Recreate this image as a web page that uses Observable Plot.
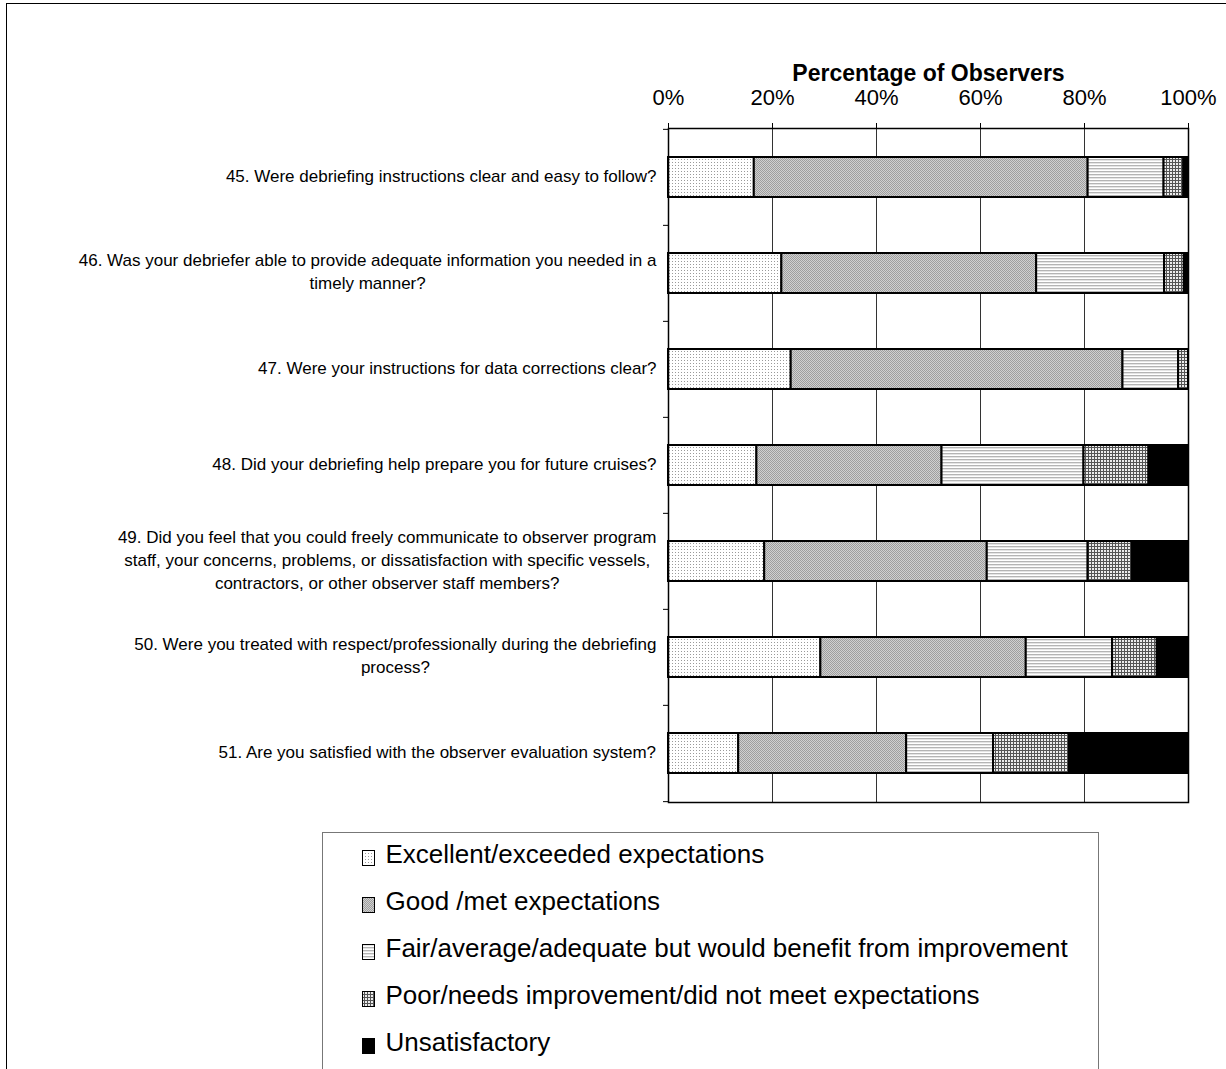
<!DOCTYPE html>
<html>
<head>
<meta charset="utf-8">
<script src="https://cdn.jsdelivr.net/npm/d3@7"></script>
<script src="https://cdn.jsdelivr.net/npm/@observablehq/plot@0.6"></script>
<style>
  body { margin: 0; background: #fff; font-family: 'Liberation Sans', Arial, sans-serif; }
  #page { position: relative; width: 1226px; height: 1069px; overflow: hidden; background: #fff; }
  #outline { position: absolute; left: 6px; top: 3px; width: 1260px; height: 1120px;
             border-left: 1.5px solid #000; border-top: 1.5px solid #000; }
  #chart { position: absolute; left: 0; top: 0; }
  #legend { position: absolute; left: 322px; top: 832px; width: 777px; height: 260px;
            border: 1.5px solid #777; box-sizing: border-box; background: #fff; }
  #legend .item { position: absolute; left: 38.5px; font-size: 26px; line-height: 26px;
                  white-space: nowrap; color: #000; }
  #legend .item svg { display: inline-block; vertical-align: -3px; margin-right: 11px; }
</style>
</head>
<body>
<svg width="0" height="0" style="position:absolute">
  <defs>
    <pattern id="pat-exc" width="3" height="3" patternUnits="userSpaceOnUse">
      <rect width="3" height="3" fill="#fff"/>
      <rect width="1" height="1" fill="#9a9a9a"/>
    </pattern>
    <pattern id="pat-good" width="2" height="2" patternUnits="userSpaceOnUse">
      <rect width="2" height="2" fill="#d0d0d0"/>
      <rect width="1" height="1" fill="#9e9e9e"/>
      <rect x="1" y="1" width="1" height="1" fill="#9e9e9e"/>
    </pattern>
    <pattern id="pat-fair" width="3" height="3" patternUnits="userSpaceOnUse">
      <rect width="3" height="3" fill="#fff"/>
      <rect width="3" height="1" fill="#b4b4b4"/>
      <rect y="1" width="3" height="1" fill="#e4e4e4"/>
    </pattern>
    <pattern id="pat-poor" width="3" height="3" patternUnits="userSpaceOnUse">
      <rect width="3" height="3" fill="#555"/>
      <rect x="0" y="1" width="2" height="2" fill="#ececec"/>
    </pattern>
    <pattern id="pat-unsat" width="3" height="3" patternUnits="userSpaceOnUse">
      <rect width="3" height="3" fill="#000"/>
    </pattern>
  </defs>
</svg>
<div id="page">
  <div id="outline"></div>
  <div id="chart"></div>
  <div id="legend"></div>
</div>
<script>
// Survey questions (line breaks as printed beside each bar)
const questions = [
  "45. Were debriefing instructions clear and easy to follow?",
  "46. Was your debriefer able to provide adequate information you needed in a\ntimely manner?",
  "47. Were your instructions for data corrections clear?",
  "48. Did your debriefing help prepare you for future cruises?",
  "49. Did you feel that you could freely communicate to observer program\nstaff, your concerns, problems, or dissatisfaction with specific vessels,\ncontractors, or other observer staff members?",
  "50. Were you treated with respect/professionally during the debriefing\nprocess?",
  "51. Are you satisfied with the observer evaluation system?"
];

// Response categories, in stacking order
const categories = [
  "Excellent/exceeded expectations",
  "Good /met expectations",
  "Fair/average/adequate but would benefit from improvement",
  "Poor/needs improvement/did not meet expectations",
  "Unsatisfactory"
];

// Percentage of observers choosing each response, one value per question
const excellent      = [16.5, 21.8, 23.6, 17.0, 18.5, 29.3, 13.5];
const good           = [64.2, 49.0, 63.8, 35.6, 42.8, 39.5, 32.3];
const fair           = [14.6, 24.6, 10.7, 27.3, 19.4, 16.6, 16.7];
const poor           = [ 3.8,  3.8,  1.9, 12.5,  8.5,  8.6, 14.6];
const unsatisfactory = [ 0.9,  0.8,  0.0,  7.6, 10.8,  6.0, 22.9];

const xTicks = [0, 20, 40, 60, 80, 100];
const axisTitle = "Percentage of Observers";

// Fill patterns for each response category
const fills = ["url(#pat-exc)", "url(#pat-good)", "url(#pat-fair)", "url(#pat-poor)", "url(#pat-unsat)"];

const series = [excellent, good, fair, poor, unsatisfactory];
const rows = [];
questions.forEach((q, i) => {
  categories.forEach((c, j) => {
    if (series[j][i] > 0) rows.push({question: q, category: c, value: series[j][i]});
  });
});

const W = 1226, H = 820, MT = 128, MB = 18, ML = 668, MR = 38;
const step = (H - MT - MB) / questions.length;
const labelFont = 17, labelGap = 12;

// Width of the widest line of each question, so its lines can be centred
// within a block that ends just left of the plot frame
const ctx = document.createElement("canvas").getContext("2d");
ctx.font = `${labelFont}px 'Liberation Sans', Arial, sans-serif`;
const blockWidth = q => Math.max(...q.split("\n").map(l => ctx.measureText(l).width));

const labelMarks = questions.map(q => Plot.text([q], {
  y: d => d,
  text: d => d,
  frameAnchor: "left",
  textAnchor: "middle",
  lineAnchor: "middle",
  dx: -(labelGap + blockWidth(q) / 2),
  dy: -3,
  fontSize: labelFont,
  lineHeight: 23 / labelFont,
  fill: "#000"
}));

const chart = Plot.plot({
  width: W,
  height: H,
  marginTop: MT,
  marginBottom: MB,
  marginLeft: ML,
  marginRight: MR,
  style: {fontFamily: "'Liberation Sans', Arial, sans-serif", color: "#000", background: "transparent", overflow: "visible"},
  x: {domain: [0, 100]},
  y: {domain: questions, paddingInner: 0.585, paddingOuter: 0.2925},
  color: {type: "ordinal", domain: categories, range: fills},
  marks: [
    Plot.gridX({ticks: xTicks.slice(1, -1), stroke: "#333", strokeOpacity: 1, strokeWidth: 1}),
    Plot.barX(rows, Plot.stackX({
      y: "question",
      x: "value",
      fill: "category",
      order: categories,
      stroke: "#000",
      strokeWidth: 2
    })),
    Plot.frame({stroke: "#000", strokeWidth: 1.5}),
    Plot.axisX({
      anchor: "top",
      ticks: xTicks,
      tickFormat: d => `${d}%`,
      tickSize: 6,
      tickPadding: 18,
      fontSize: 22,
      label: null,
      stroke: "#000"
    }),
    // small ticks on the category boundaries
    Plot.axisY({anchor: "left", ticks: questions, tickSize: 5, tickFormat: () => "", label: null, dy: -step / 2, stroke: "#000"}),
    Plot.axisY({anchor: "left", ticks: questions.slice(-1), tickSize: 5, tickFormat: () => "", label: null, dy: step / 2, stroke: "#000"}),
    Plot.text([axisTitle], {text: d => d, frameAnchor: "top", lineAnchor: "middle", dy: -55, fontSize: 23, fontWeight: "bold", fill: "#000"}),
    ...labelMarks
  ]
});
document.getElementById("chart").append(chart);

// Legend: one row per response category with its pattern swatch
const legend = document.getElementById("legend");
categories.forEach((c, i) => {
  const item = document.createElement("div");
  item.className = "item";
  item.style.top = `${8.3 + 46.9 * i}px`;
  item.innerHTML = `<svg width="13" height="16"><rect x="0.5" y="0.5" width="12" height="15" fill="${fills[i]}" stroke="#000" stroke-width="1"/></svg>`;
  item.append(document.createTextNode(c));
  legend.append(item);
});
</script>
</body>
</html>
